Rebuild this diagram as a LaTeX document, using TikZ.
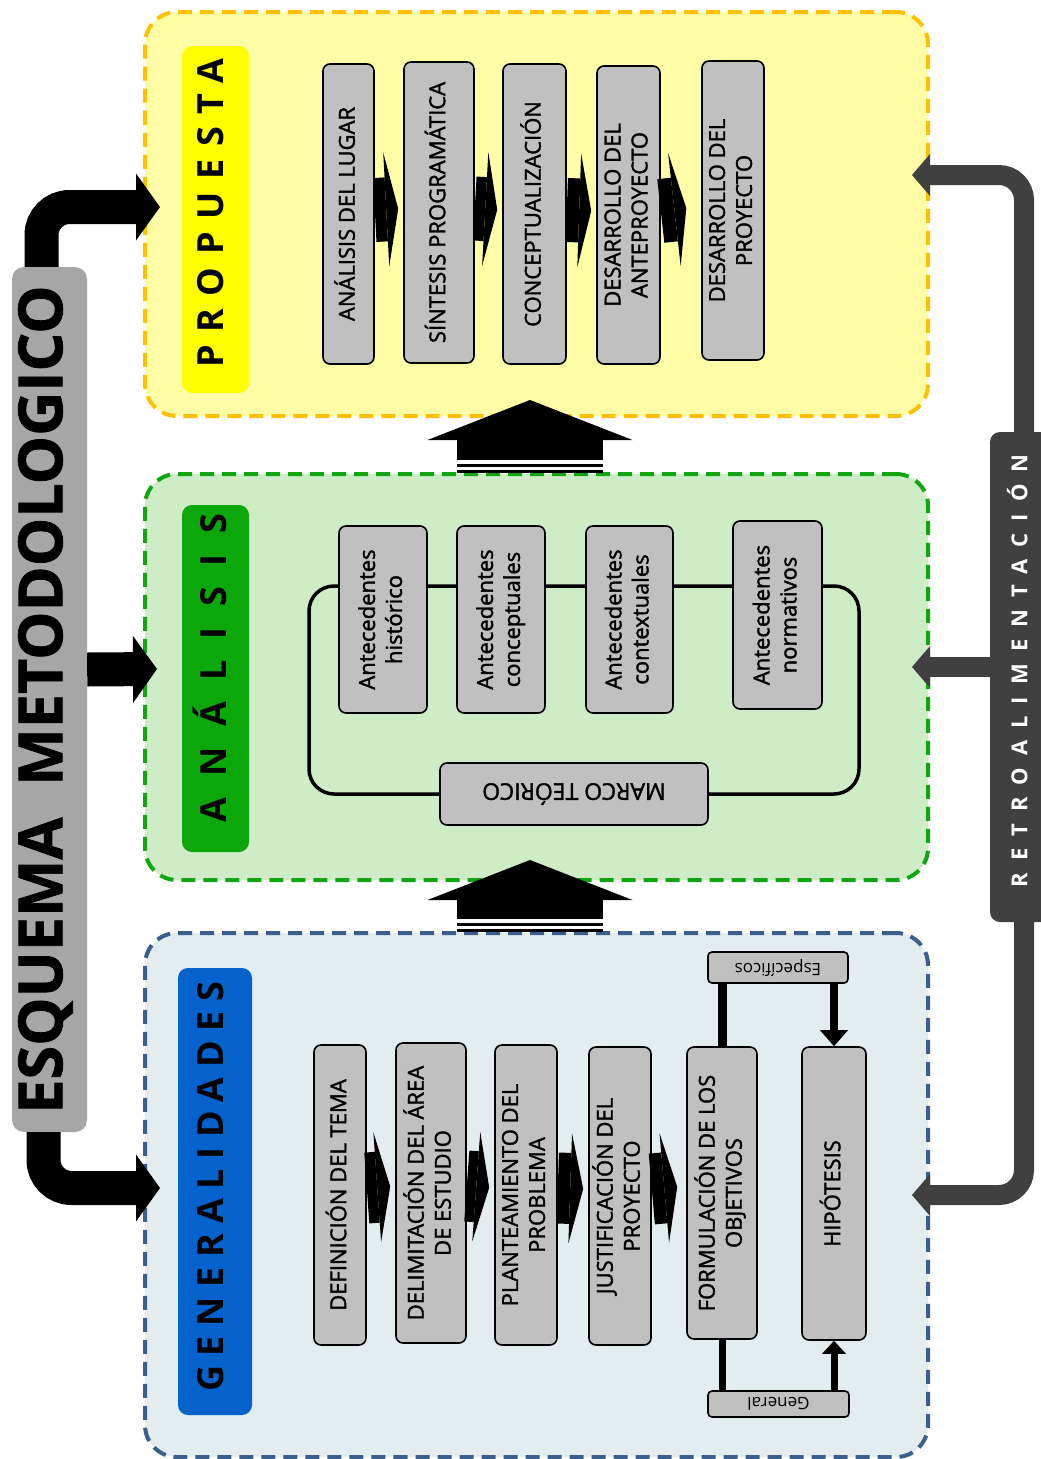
\documentclass[tikz,border=0pt]{standalone}
\usepackage{fontspec}
\setmainfont{Open Sans}
\usepackage{graphicx}
\usetikzlibrary{arrows.meta}
\definecolor{propfill}{HTML}{FFFDA6}
\definecolor{propline}{HTML}{FFC000}
\definecolor{anafill}{HTML}{CEEDC6}
\definecolor{analine}{HTML}{0FA60F}
\definecolor{genfill}{HTML}{E3ECEF}
\definecolor{genline}{HTML}{3A5F8F}
\definecolor{tagyellow}{HTML}{FFFF00}
\definecolor{taggreen}{HTML}{0BA70B}
\definecolor{tagblue}{HTML}{0462CC}
\definecolor{boxgray}{HTML}{C0C0C0}
\definecolor{esqgray}{HTML}{A6A6A6}
\definecolor{retro}{HTML}{404040}
\newcommand{\vt}[1]{\rotatebox{90}{\begin{tabular}{@{}c@{}}#1\end{tabular}}}
\newcommand{\ud}[1]{\rotatebox{180}{#1}}
\newcommand{\spread}[2]{{\addfontfeature{LetterSpace=#1}#2\kern-0.#1em}}
\tikzset{panel/.style={line width=4pt, dash pattern=on 14pt off 8pt, rounded corners=32pt, inner sep=0pt},
    tag/.style={rounded corners=10pt, inner sep=0pt, font=\bfseries\fontsize{36}{40}\selectfont},
    box/.style={draw, fill=boxgray, line width=1.6pt, rounded corners=7pt, inner sep=0pt, font=\fontsize{22}{27}\selectfont\addfontfeature{FakeBold=1.6}},
    flow/.style={line width=64pt, -{Triangle[length=12pt,width=114pt,line width=0pt]}, shorten >=5pt},
    flowb/.style={line width=71pt, -{Triangle[length=13pt,width=110pt,line width=0pt]}, shorten >=5pt},
    upflow/.style={line width=146pt, -{Triangle[length=40pt,width=205pt,line width=0pt]}},
    elbow/.style={line width=34pt, rounded corners=28pt, -{Triangle[length=24pt,width=67pt,line width=0pt]}},
    fb/.style={draw=retro, line width=20pt, rounded corners=25pt, -{Triangle[length=18pt,width=42pt,line width=0pt]}},
    stem/.style={line width=8pt},}

\begin{document}
\begin{tikzpicture}[x=1pt, y=-1pt]
  \useasboundingbox (0,0) rectangle (1041,1459);
  \node[panel, draw=propline, fill=propfill, minimum width=783pt, minimum height=404pt] (0) at (536.5,214) {};
  \node[panel, draw=analine, fill=anafill, minimum width=783pt, minimum height=406pt] (1) at (536.5,677) {};
  \node[panel, draw=genline, fill=genfill, minimum width=783pt, minimum height=524pt] (2) at (536.5,1195) {};
  \node[tag, fill=tagyellow, minimum width=67pt, minimum height=347pt] (3) at (215.5,219.5) {\vt{\spread{35}{PROPUESTA}}};
  \node[tag, fill=taggreen, minimum width=67pt, minimum height=347pt] (4) at (215.5,678.5) {\vt{\spread{58}{ANÁLISIS}}};
  \node[tag, fill=tagblue, minimum width=74pt, minimum height=447pt] (5) at (215,1191.5) {\vt{\spread{27}{GENERALIDADES}}};
  \node[fill=esqgray, rounded corners=12pt, inner sep=0pt, minimum width=75pt, minimum height=865pt, font=\bfseries\fontsize{61}{64}\selectfont\addfontfeature{FakeBold=1.2}] (6) at (49.5,699.5) {\vt{ESQUEMA\ \ METODOLOGICO}};
  \node[fill=retro, text=white, rounded corners=10pt, inner sep=0pt, minimum width=62pt, minimum height=490pt, font=\bfseries\fontsize{22}{26}\selectfont] (7) at (1021,677) {\vt{\spread{55}{RETROALIMENTACIÓN}}};
  \node[box, minimum width=51pt, minimum height=300pt] (8) at (348.5,214) {\vt{ANÁLISIS DEL LUGAR}};
  \node[box, minimum width=70pt, minimum height=301pt] (9) at (439,212.5) {\vt{SÍNTESIS PROGRAMÁTICA}};
  \node[box, minimum width=63pt, minimum height=300pt] (10) at (534.5,214) {\vt{CONCEPTUALIZACIÓN}};
  \node[box, minimum width=63pt, minimum height=298pt] (11) at (628.5,215) {\vt{DESARROLLO DEL\\ANTEPROYECTO}};
  \node[box, minimum width=62pt, minimum height=299pt] (12) at (733,210.5) {\vt{DESARROLLO DEL\\PROYECTO}};
  \node[box, minimum width=268pt, minimum height=62pt, font=\fontsize{23}{27}\selectfont\addfontfeature{FakeBold=1.6}] (17) at (574,794) {\ud{MARCO TEÓRICO}};
  \coordinate (26) at (309,586);
  \coordinate (27) at (859,586);
  \draw[line width=3.5pt, rounded corners=25pt] (17.west) -| (26) -- (27) |- (17.east);
  \node[box, minimum width=88pt, minimum height=187pt] (13) at (383,619.5) {\vt{Antecedentes\\histórico}};
  \node[box, minimum width=88pt, minimum height=187pt] (14) at (501,619.5) {\vt{Antecedentes\\conceptuales}};
  \node[box, minimum width=87pt, minimum height=187pt] (15) at (629.5,619.5) {\vt{Antecedentes\\contextuales}};
  \node[box, minimum width=89pt, minimum height=188pt] (16) at (777.5,615) {\vt{Antecedentes\\normativos}};
  \node[box, minimum width=52pt, minimum height=300pt] (18) at (340,1195) {\vt{DEFINICIÓN DEL TEMA}};
  \node[box, minimum width=70pt, minimum height=300pt] (19) at (431,1193) {\vt{DELIMITACIÓN DEL ÁREA\\DE ESTUDIO}};
  \node[box, minimum width=62pt, minimum height=300pt] (20) at (526,1195) {\vt{PLANTEAMIENTO DEL\\PROBLEMA}};
  \node[box, minimum width=62pt, minimum height=298pt] (21) at (620,1196) {\vt{JUSTIFICACIÓN DEL\\PROYECTO}};
  \node[box, minimum width=70pt, minimum height=292pt] (22) at (722,1193) {\vt{FORMULACIÓN DE LOS\\OBJETIVOS}};
  \node[box, minimum width=64pt, minimum height=293pt] (23) at (834,1193.5) {\vt{HIPÓTESIS}};
  \node[box, rounded corners=4pt, minimum width=140pt, minimum height=31pt, font=\fontsize{17}{20}\selectfont] (24) at (778,967.5) {\ud{Específicos}};
  \node[box, rounded corners=4pt, minimum width=141pt, minimum height=26pt, font=\fontsize{17}{20}\selectfont] (25) at (778.5,1404) {\ud{General}};
  \draw[flow] ([yshift=4pt]8.east) -- ([yshift=4pt]9.west);
  \draw[flow] ([yshift=4pt]9.east) -- ([yshift=4pt]10.west);
  \draw[flow] ([yshift=4pt]10.east) -- ([yshift=4pt]11.west);
  \draw[flow, shorten >=15pt] ([yshift=4pt]11.east) -- ([yshift=4pt]12.west);
  \draw[flowb] ([yshift=7pt]18.east) -- ([yshift=7pt]19.west);
  \draw[flowb] ([yshift=7pt]19.east) -- ([yshift=7pt]20.west);
  \draw[flowb] ([yshift=7pt]20.east) -- ([yshift=7pt]21.west);
  \draw[flowb, shorten >=9pt] ([yshift=7pt]21.east) -- ([yshift=7pt]22.west);
  \draw[stem, line width=9pt] (22.north) -- (22.north |- 24.south);
  \draw[stem, -{Triangle[length=16pt,width=28pt,line width=0pt]}] (23.north |- 24.south) -- (23.north);
  \draw[stem, line width=7pt] (22.south) -- (22.south |- 25.north);
  \draw[stem, line width=7pt, -{Triangle[length=13pt,width=24pt,line width=0pt]}] (23.south |- 25.north) -- (23.south);
  \draw[upflow] ([xshift=-6.5pt,yshift=12pt]1.north) -- ([xshift=-6.5pt,yshift=18pt]0.south);
  \draw[line width=3pt] ([xshift=-79.5pt,yshift=7pt]1.north) -- ([xshift=66.5pt,yshift=7pt]1.north);
  \draw[line width=3pt] ([xshift=-79.5pt,yshift=1pt]1.north) -- ([xshift=66.5pt,yshift=1pt]1.north);
  \draw[upflow] ([xshift=-6.5pt,yshift=12pt]2.north) -- ([xshift=-6.5pt,yshift=22pt]1.south);
  \draw[line width=3pt] ([xshift=-79.5pt,yshift=7pt]2.north) -- ([xshift=66.5pt,yshift=7pt]2.north);
  \draw[line width=3pt] ([xshift=-79.5pt,yshift=1pt]2.north) -- ([xshift=66.5pt,yshift=1pt]2.north);
  \draw[elbow] ([xshift=-8pt]6.north) |- ([xshift=17pt,yshift=7pt]0.west);
  \draw[elbow] ([yshift=30pt]6.east) -- ([xshift=14pt,yshift=8pt]1.west);
  \draw[elbow] ([xshift=-6pt]6.south) |- ([xshift=17pt,yshift=7pt]2.west);
  \draw[fb] ([xshift=3pt]7.north) |- ([xshift=-18pt,yshift=39pt]0.east);
  \draw[fb] ([yshift=10pt]7.west) -- ([xshift=-18pt,yshift=10pt]1.east);
  \draw[fb] ([xshift=3pt]7.south) |- ([xshift=-18pt]2.east);
\end{tikzpicture}
\end{document}
